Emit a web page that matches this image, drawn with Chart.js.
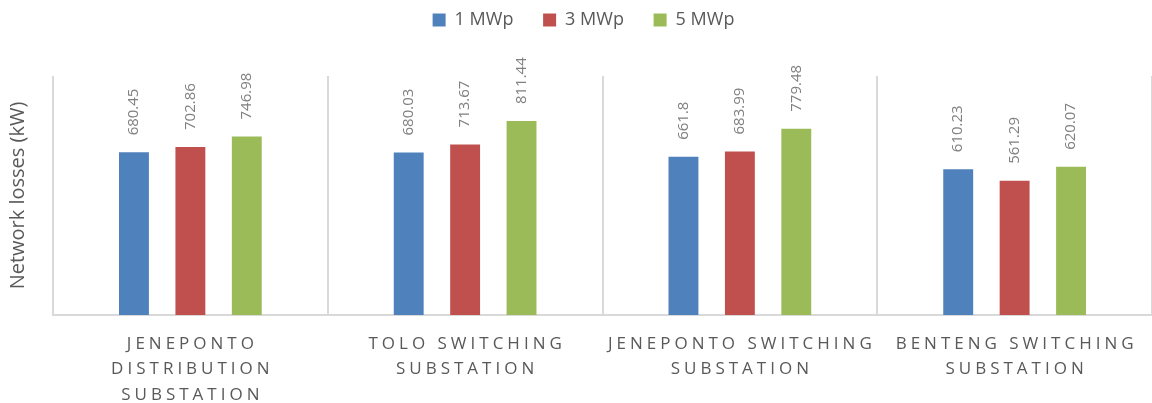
<!DOCTYPE html>
<html>
<head>
<meta charset="utf-8">
<script src="https://cdn.jsdelivr.net/npm/chart.js@4.4.1/dist/chart.umd.min.js"></script>
<style>
  html, body { margin: 0; padding: 0; background: #fff; }
  #wrap { width: 1152px; height: 403px; }
</style>
</head>
<body>
<div id="wrap"><canvas id="grafico"></canvas></div>
<script>
// dados do gráfico
const categorias = [
  ['JENEPONTO', 'DISTRIBUTION', 'SUBSTATION'],
  ['TOLO SWITCHING', 'SUBSTATION'],
  ['JENEPONTO SWITCHING', 'SUBSTATION'],
  ['BENTENG SWITCHING', 'SUBSTATION']
];
const series = ['1 MWp', '3 MWp', '5 MWp'];
const perdas1MWp = [680.45, 680.03, 661.8, 610.23];
const perdas3MWp = [702.86, 713.67, 683.99, 561.29];
const perdas5MWp = [746.98, 811.44, 779.48, 620.07];
const cores = ['#4f81bd', '#c0504d', '#9bbb59'];

const FONTE = "'Open Sans', sans-serif";
const TOPO_AREA = 76; // onde começa a área do gráfico

// rótulos de valor girados acima das barras
const rotulosValor = {
  id: 'rotulosValor',
  afterDatasetsDraw(chart) {
    const ctx = chart.ctx;
    ctx.save();
    ctx.fillStyle = '#808080';
    ctx.font = '15px ' + FONTE;
    ctx.textAlign = 'left';
    ctx.textBaseline = 'middle';
    chart.data.datasets.forEach((ds, i) => {
      chart.getDatasetMeta(i).data.forEach((bar, j) => {
        ctx.save();
        ctx.translate(bar.x, bar.y - 17);
        ctx.rotate(-Math.PI / 2);
        ctx.fillText(String(ds.data[j]), 0, 0);
        ctx.restore();
      });
    });
    ctx.restore();
  }
};

// rótulos do eixo x com espaçamento entre letras
const rotulosEixo = {
  id: 'rotulosEixo',
  afterDraw(chart) {
    const ctx = chart.ctx;
    const x = chart.scales.x;
    ctx.save();
    ctx.fillStyle = '#595959';
    ctx.font = '17px ' + FONTE;
    ctx.letterSpacing = '4px';
    ctx.textAlign = 'center';
    ctx.textBaseline = 'middle';
    categorias.forEach((linhas, i) => {
      const cx = x.getPixelForValue(i) + 2;
      linhas.forEach((t, k) => {
        ctx.fillText(t, cx, x.top + 29 + k * 25.5);
      });
    });
    ctx.restore();
  }
};

// espaço extra abaixo da legenda e leve deslocamento para a direita
const espacoLegenda = {
  id: 'espacoLegenda',
  beforeLayout(chart) {
    const leg = chart.legend;
    if (leg && !leg._ajustado) {
      const fitOriginal = leg.fit;
      leg.fit = function () {
        fitOriginal.call(this);
        this.height = TOPO_AREA;
      };
      leg._ajustado = true;
    }
  },
  afterLayout(chart) {
    const leg = chart.legend;
    if (leg) {
      leg.left += 7;
      leg.right += 7;
    }
  }
};

new Chart(document.getElementById('grafico'), {
  type: 'bar',
  data: {
    labels: categorias.map(l => l.join(' ')),
    datasets: [
      { label: series[0], data: perdas1MWp, backgroundColor: cores[0] },
      { label: series[1], data: perdas3MWp, backgroundColor: cores[1] },
      { label: series[2], data: perdas5MWp, backgroundColor: cores[2] }
    ]
  },
  options: {
    responsive: true,
    maintainAspectRatio: false,
    animation: false,
    datasets: {
      bar: { categoryPercentage: 0.616, barPercentage: 0.53 }
    },
    layout: { padding: { top: 0, right: -1, bottom: 0, left: 0 } },
    plugins: {
      legend: {
        position: 'top',
        labels: {
          boxWidth: 13,
          boxHeight: 13,
          padding: 11,
          color: '#595959',
          font: { family: FONTE, size: 18 },
          generateLabels(chart) {
            const itens = Chart.defaults.plugins.legend.labels.generateLabels(chart);
            itens.forEach((it, i) => {
              if (i < itens.length - 1) it.text = it.text + '    ';
            });
            return itens;
          }
        }
      },
      tooltip: { enabled: false }
    },
    scales: {
      x: {
        grid: { color: '#d9d9d9', lineWidth: 2, offset: true, drawTicks: false },
        border: { color: '#d9d9d9', width: 2 },
        ticks: { display: false },
        afterFit(scale) { scale.height = 88; }
      },
      y: {
        min: 0,
        max: 1000,
        grid: { display: false },
        border: { display: false },
        ticks: { display: false },
        title: {
          display: true,
          text: 'Network losses (kW)',
          color: '#595959',
          padding: { top: 6, bottom: 0 },
          font: { family: FONTE, size: 20 }
        },
        afterFit(scale) { scale.width = 53; }
      }
    }
  },
  plugins: [rotulosValor, rotulosEixo, espacoLegenda]
});
</script>
</body>
</html>
